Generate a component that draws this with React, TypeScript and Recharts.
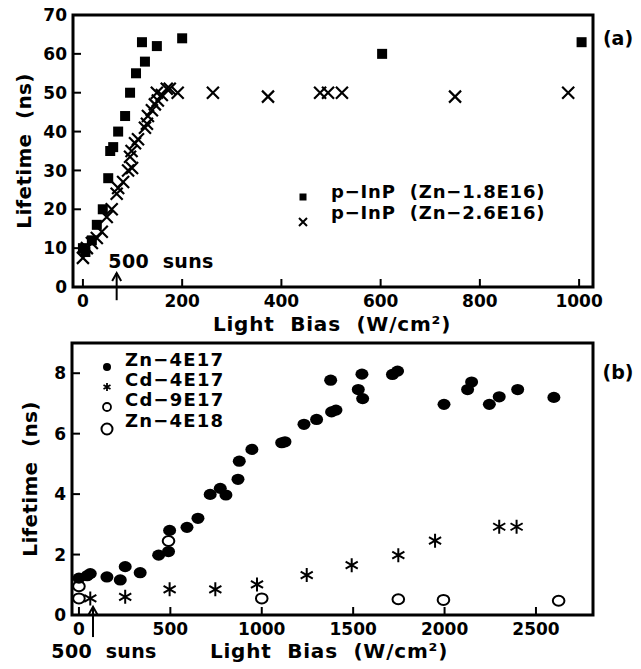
import React from "react";
import { ScatterChart, Scatter, XAxis, YAxis, ReferenceArea, ReferenceLine } from "recharts";

const FONT = "DejaVu Sans";
const WEIGHT = 600;

// ---- panel (a) ----
const xTicksA = [0, 200, 400, 600, 800, 1000];
const yTicksA = [0, 10, 20, 30, 40, 50, 60, 70];
const sqBias = [0, 5, 18, 28, 40, 51, 55, 61, 71, 85, 95, 107, 119, 125, 149, 200, 603, 1005];
const sqLife = [10, 9, 12, 16, 20, 28, 35, 36, 40, 44, 50, 55, 63, 58, 62, 64, 60, 63];
const crBias = [0, 8, 18, 28, 38, 48, 58, 68, 71, 81, 91, 99, 95, 98, 105, 111, 125, 129, 131, 139, 145, 151, 149, 159, 169, 175, 191, 262, 373, 478, 494, 522, 750, 978];
const crLife = [7.5, 10, 11.3, 12.6, 14.2, 18, 20, 24, 25.5, 27, 30, 30.6, 33.5, 35, 37, 38, 41, 42, 44, 45.5, 47, 48, 50, 49.4, 51, 51, 50, 50, 49, 50, 50, 50, 49, 50];
const sunsA = 68;

// ---- panel (b) ----
const xTicksB = [0, 500, 1000, 1500, 2000, 2500];
const yTicksB = [0, 2, 4, 6, 8];
const zn17Bias = [0, 45, 62, 153, 226, 253, 335, 436, 490, 496, 591, 651, 718, 773, 804, 870, 877, 946, 1109, 1127, 1231, 1300, 1382, 1406, 1377, 1528, 1552, 1548, 1715, 1743, 1997, 2126, 2148, 2245, 2299, 2400, 2598];
const zn17Life = [1.22, 1.3, 1.37, 1.26, 1.16, 1.6, 1.4, 1.98, 2.1, 2.8, 2.9, 3.2, 3.99, 4.19, 3.97, 4.49, 5.09, 5.48, 5.7, 5.73, 6.31, 6.47, 6.72, 6.78, 7.77, 7.46, 7.16, 7.97, 7.96, 8.07, 6.97, 7.46, 7.71, 6.97, 7.22, 7.46, 7.2];
const cd17Bias = [62, 253, 496, 746, 974, 1246, 1492, 1747, 1948, 2299, 2394];
const cd17Life = [0.55, 0.6, 0.85, 0.85, 1.01, 1.32, 1.65, 1.98, 2.46, 2.92, 2.92];
const cd9Bias = [0, 490];
const cd9Life = [0.95, 2.45];
const zn18Bias = [0, 1000, 1747, 1994, 2624];
const zn18Life = [0.55, 0.55, 0.52, 0.5, 0.47];
const sunsB = 77;

const zip = (xs: number[], ys: number[]) => xs.map((x, i) => ({ x, y: ys[i] }));

const Square = (p: any) => <rect x={p.cx - 5} y={p.cy - 5} width={10} height={10} fill="#000" />;
const Cross = (p: any) => (
  <path
    d={`M${p.cx - 6},${p.cy - 6}L${p.cx + 6},${p.cy + 6}M${p.cx - 6},${p.cy + 6}L${p.cx + 6},${p.cy - 6}`}
    stroke="#000"
    strokeWidth={2.2}
  />
);
const Dot = (p: any) => <ellipse cx={p.cx} cy={p.cy} rx={6.5} ry={5.6} fill="#000" />;
const Ring = (p: any) => <ellipse cx={p.cx} cy={p.cy} rx={5.8} ry={5} fill="#fff" stroke="#000" strokeWidth={2} />;
const Star = (p: any) => {
  const r = 7;
  const dx = r * Math.cos(Math.PI / 6);
  const dy = r * Math.sin(Math.PI / 6);
  return (
    <path
      d={`M${p.cx},${p.cy - r}L${p.cx},${p.cy + r}M${p.cx - dx},${p.cy - dy}L${p.cx + dx},${p.cy + dy}M${p.cx - dx},${p.cy + dy}L${p.cx + dx},${p.cy - dy}`}
      stroke="#000"
      strokeWidth={2}
    />
  );
};

const TICK_MARGIN = 6;
const XTick = (p: any) => {
  const axisY = p.y - TICK_MARGIN;
  return (
    <g>
      <line x1={p.x} x2={p.x} y1={axisY} y2={axisY - 8} stroke="#000" strokeWidth={2} />
      <text x={p.x} y={p.y} dy="0.85em" textAnchor="middle" fontSize={17} fontWeight={WEIGHT} fontFamily={FONT} fill="#000">
        {p.payload.value}
      </text>
    </g>
  );
};
const YTick = (p: any) => {
  const axisX = p.x + TICK_MARGIN;
  return (
    <g>
      <line x1={axisX} x2={axisX + 8} y1={p.y} y2={p.y} stroke="#000" strokeWidth={2} />
      <text x={p.x} y={p.y} dy="0.36em" textAnchor="end" fontSize={17} fontWeight={WEIGHT} fontFamily={FONT} fill="#000">
        {p.payload.value}
      </text>
    </g>
  );
};

const Arrow = (p: any) => (
  <g>
    <line x1={p.x1} y1={p.y1} x2={p.x2} y2={p.y2} stroke="#000" strokeWidth={2} />
    <path d={`M${p.x2 - 4.5},${p.y2 + 8}L${p.x2},${p.y2}L${p.x2 + 4.5},${p.y2 + 8}`} fill="none" stroke="#000" strokeWidth={2} />
  </g>
);

const Txt = ({ x, y, children, size = 19, ls = 1, rotate = false, anchor = "center" }: any) => (
  <div
    style={{
      position: "absolute",
      left: x,
      top: y,
      transform:
        (anchor === "left" ? "translate(0,-50%)" : "translate(-50%,-50%)") + (rotate ? " rotate(-90deg)" : ""),
      fontSize: size,
      fontWeight: WEIGHT,
      lineHeight: 1,
      letterSpacing: ls,
      whiteSpace: "pre",
      fontFamily: FONT,
      color: "#000",
    }}
  >
    {children}
  </div>
);

const Mark = ({ x, y, children }: any) => (
  <svg style={{ position: "absolute", left: x - 8, top: y - 8 }} width={16} height={16}>
    {children}
  </svg>
);

export default function App() {
  return (
    <div style={{ position: "absolute", left: 0, top: 0, width: 641, height: 669, background: "#fff", fontFamily: FONT }}>
      {/* panel (a) */}
      <div style={{ position: "absolute", left: 0, top: 0 }}>
        <ScatterChart width={641} height={340} margin={{ top: 15, right: 48, left: 0, bottom: 0 }}>
          <XAxis
            type="number"
            dataKey="x"
            domain={[-20, 1028]}
            ticks={xTicksA}
            interval={0}
            height={53}
            axisLine={false}
            tickLine={false}
            tickSize={0}
            tickMargin={TICK_MARGIN}
            tick={(p: any) => <XTick {...p} />}
            allowDataOverflow
          />
          <YAxis
            type="number"
            dataKey="y"
            domain={[0, 70]}
            ticks={yTicksA}
            interval={0}
            width={73}
            axisLine={false}
            tickLine={false}
            tickSize={0}
            tickMargin={TICK_MARGIN}
            tick={(p: any) => <YTick {...p} />}
            allowDataOverflow
          />
          <ReferenceArea x1={-20} x2={1028} y1={0} y2={70} fill="none" fillOpacity={0} stroke="#000" strokeWidth={3} />
          <ReferenceLine
            segment={[{ x: sunsA, y: -3.4 }, { x: sunsA, y: 3.6 }]}
            ifOverflow="visible"
            shape={(p: any) => <Arrow {...p} />}
          />
          <Scatter data={zip(crBias, crLife)} shape={Cross} isAnimationActive={false} />
          <Scatter data={zip(sqBias, sqLife)} shape={Square} isAnimationActive={false} />
        </ScatterChart>
      </div>
      <Txt x={24} y={151} rotate size={20} ls={0.3}>{"Lifetime  (ns)"}</Txt>
      <Txt x={332} y={324} size={20} ls={0.8}>{"Light  Bias  (W/cm²)"}</Txt>
      <Txt x={161} y={261} size={19} ls={0.3}>{"500  suns"}</Txt>
      <Txt x={618} y={38} size={19} ls={0}>(a)</Txt>
      <Mark x={303} y={197}>
        <rect x={4.5} y={4.5} width={7} height={7} fill="#000" />
      </Mark>
      <Mark x={303} y={222}>
        <path d="M4,4L12,12M4,12L12,4" stroke="#000" strokeWidth={2} />
      </Mark>
      <Txt x={331} y={192} anchor="left" size={18} ls={0.8}>{"p−InP  (Zn−1.8E16)"}</Txt>
      <Txt x={331} y={213} anchor="left" size={18} ls={0.8}>{"p−InP  (Zn−2.6E16)"}</Txt>

      {/* panel (b) */}
      <div style={{ position: "absolute", left: 0, top: 330 }}>
        <ScatterChart width={641} height={339} margin={{ top: 13, right: 48, left: 0, bottom: 0 }}>
          <XAxis
            type="number"
            dataKey="x"
            domain={[-38, 2812]}
            ticks={xTicksB}
            interval={0}
            height={54}
            axisLine={false}
            tickLine={false}
            tickSize={0}
            tickMargin={TICK_MARGIN}
            tick={(p: any) => <XTick {...p} />}
            allowDataOverflow
          />
          <YAxis
            type="number"
            dataKey="y"
            domain={[0, 9]}
            ticks={yTicksB}
            interval={0}
            width={72}
            axisLine={false}
            tickLine={false}
            tickSize={0}
            tickMargin={TICK_MARGIN}
            tick={(p: any) => <YTick {...p} />}
            allowDataOverflow
          />
          <ReferenceArea x1={-38} x2={2812} y1={0} y2={9} fill="none" fillOpacity={0} stroke="#000" strokeWidth={3} />
          <ReferenceLine
            segment={[{ x: sunsB, y: -0.73 }, { x: sunsB, y: 0.27 }]}
            ifOverflow="visible"
            shape={(p: any) => <Arrow {...p} />}
          />
          <Scatter data={zip(zn18Bias, zn18Life)} shape={Ring} isAnimationActive={false} />
          <Scatter data={zip(cd9Bias, cd9Life)} shape={Ring} isAnimationActive={false} />
          <Scatter data={zip(cd17Bias, cd17Life)} shape={Star} isAnimationActive={false} />
          <Scatter data={zip(zn17Bias, zn17Life)} shape={Dot} isAnimationActive={false} />
        </ScatterChart>
      </div>
      <Txt x={30} y={479} rotate size={20} ls={0.3}>{"Lifetime  (ns)"}</Txt>
      <Txt x={329} y={651} size={20} ls={0.8}>{"Light  Bias  (W/cm²)"}</Txt>
      <Txt x={104} y={651} size={19} ls={0.3}>{"500  suns"}</Txt>
      <Txt x={618} y={372} size={19} ls={0}>(b)</Txt>
      <Mark x={107} y={367}>
        <circle cx={8} cy={8} r={4} fill="#000" />
      </Mark>
      <Mark x={107} y={387}>
        <path d="M8,4L8,12M4.5,6L11.5,10M4.5,10L11.5,6" stroke="#000" strokeWidth={1.8} />
      </Mark>
      <Mark x={107} y={407}>
        <circle cx={8} cy={8} r={4} fill="#fff" stroke="#000" strokeWidth={1.8} />
      </Mark>
      <Mark x={107} y={429}>
        <circle cx={8} cy={8} r={5.5} fill="#fff" stroke="#000" strokeWidth={2} />
      </Mark>
      <Txt x={125} y={360} anchor="left" size={18} ls={1.2}>{"Zn−4E17"}</Txt>
      <Txt x={125} y={380} anchor="left" size={18} ls={1.2}>{"Cd−4E17"}</Txt>
      <Txt x={125} y={400} anchor="left" size={18} ls={1.2}>{"Cd−9E17"}</Txt>
      <Txt x={125} y={421} anchor="left" size={18} ls={1.2}>{"Zn−4E18"}</Txt>
    </div>
  );
}
